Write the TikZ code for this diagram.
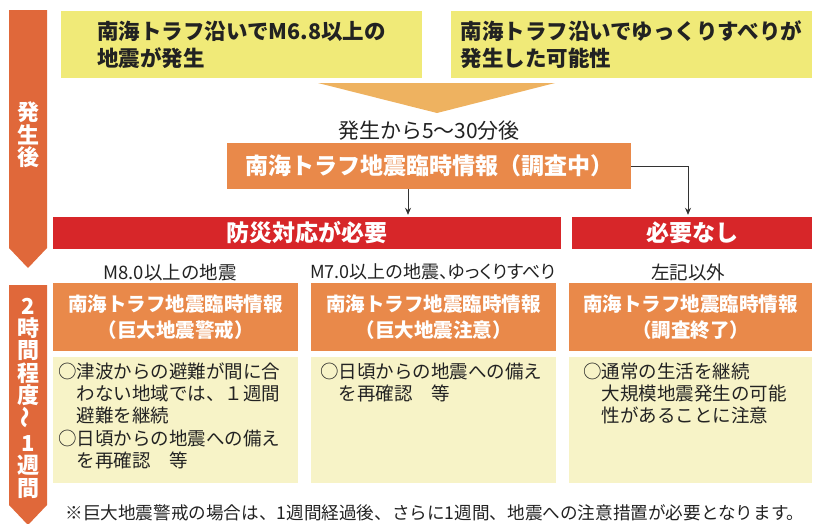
\documentclass[tikz,border=0pt]{standalone}
\usepackage{fontspec}
\setmainfont{Noto Sans CJK JP}
\usetikzlibrary{arrows.meta}

\definecolor{eventyellow}{RGB}{240,234,120}
\definecolor{funnelorange}{RGB}{238,178,96}
\definecolor{infoorange}{RGB}{233,137,74}
\definecolor{phaseorange}{RGB}{224,104,58}
\definecolor{alertred}{RGB}{215,38,41}
\definecolor{notecream}{RGB}{247,243,199}
\definecolor{inkgray}{RGB}{34,34,34}

\begin{document}
\begin{tikzpicture}[x=1pt,y=-1pt,
    eventbox/.style={fill=eventyellow, text=inkgray, minimum width=361pt, minimum height=67pt,
        align=left, inner sep=0pt, font=\fontsize{21.5}{27}\selectfont\bfseries},
    infobox/.style={fill=infoorange, text=white, inner sep=0pt, align=center,
        font=\fontsize{19.5}{26}\selectfont\bfseries},
    alertbar/.style={fill=alertred, text=white, minimum height=32pt, inner sep=0pt,
        font=\fontsize{23}{26}\selectfont\bfseries},
    notebox/.style={fill=notecream, minimum height=126pt, inner sep=0pt},
    notetext/.style={anchor=north west, align=left, inner sep=0pt, text=inkgray,
        font=\fontsize{18.5}{22.3}\selectfont},
    caselabel/.style={text=inkgray, inner sep=0pt, font=\fontsize{18.5}{22}\selectfont},
    phasetext/.style={text=white, align=center, inner sep=0pt,
        font=\fontsize{22}{22.4}\selectfont\bfseries},
    flow/.style={draw=black!80, line width=0.8pt, -{Stealth[length=7pt,width=6pt]}}]

\useasboundingbox (0,0) rectangle (822,523);

% Time line on the left
\fill[phaseorange] (9,10) -- (47,10) -- (47,248) -- (28,268) -- (9,248) -- cycle;
\node[phasetext] (phase1) at (28,135) {発\\生\\後};
\fill[phaseorange] (9,285) -- (47,285) -- (47,505) -- (28,525) -- (9,505) -- cycle;
\node[phasetext] (phase2) at (28,398) {2\\時\\間\\程\\度\\\rotatebox{90}{～}\\1\\週\\間};

% Triggering events
\node[eventbox] (quake) at (241.5,44.5) {南海トラフ沿いでM6.8以上の\\地震が発生};
\node[eventbox] (slip) at (631.5,44.5) {南海トラフ沿いでゆっくりすべりが\\発生した可能性};
\fill[funnelorange] (318,83) -- (555,83) -- (437,113) -- cycle;

% First information
\node[caselabel, font=\fontsize{21}{24}\selectfont] (delay) at (429,131) {発生から5～30分後};
\node[infobox, minimum width=404pt, minimum height=46pt, font=\fontsize{23}{26}\selectfont\bfseries]
    (survey) at (429,166) {南海トラフ地震臨時情報（調査中）};

% Need for response
\node[alertbar, minimum width=508pt] (needbar) at (307,233) {防災対応が必要};
\node[alertbar, minimum width=240pt] (nonebar) at (692,233) {必要なし};
\draw[flow] ([xshift=-21pt]survey.south) -- ([xshift=-21pt,yshift=2pt]survey.south |- needbar.north);
\draw[flow] (survey.east) -| ([xshift=-4pt,yshift=2pt]nonebar.north);

% Three cases
\node[caselabel] (case1) at (170,272) {M8.0以上の地震};
\node[caselabel, font=\fontsize{18}{22}\selectfont\addfontfeature{RawFeature=+palt}] (case2) at (433,272) {M7.0以上の地震、ゆっくりすべり};
\node[caselabel] (case3) at (688,272) {左記以外};

\node[infobox, minimum width=245pt, minimum height=68pt] (warn) at (175.5,317) {南海トラフ地震臨時情報\\（巨大地震警戒）};
\node[infobox, minimum width=245pt, minimum height=68pt] (advice) at (433.5,317) {南海トラフ地震臨時情報\\（巨大地震注意）};
\node[infobox, minimum width=243pt, minimum height=68pt] (closed) at (690.5,317) {南海トラフ地震臨時情報\\（調査終了）};

\node[notebox, minimum width=245pt] (note1) at (175.5,420) {};
\node[notebox, minimum width=245pt] (note2) at (433.5,420) {};
\node[notebox, minimum width=243pt] (note3) at (690.5,420) {};
\node[notetext] (note1text) at ([xshift=5pt,yshift=-5.7pt]note1.north west)
    {○津波からの避難が間に合\\　わない地域では、１週間\\　避難を継続\\○日頃からの地震への備え\\　を再確認　等};
\node[notetext] (note2text) at ([xshift=9pt,yshift=-5.7pt]note2.north west)
    {○日頃からの地震への備え\\　を再確認　等};
\node[notetext] (note3text) at ([xshift=14pt,yshift=-5.7pt]note3.north west)
    {○通常の生活を継続\\　大規模地震発生の可能\\　性があることに注意};

% Footnote
\node[caselabel, font=\fontsize{17.6}{20}\selectfont] (footnote) at (435,513)
    {※巨大地震警戒の場合は、1週間経過後、さらに1週間、地震への注意措置が必要となります。};

\end{tikzpicture}
\end{document}
